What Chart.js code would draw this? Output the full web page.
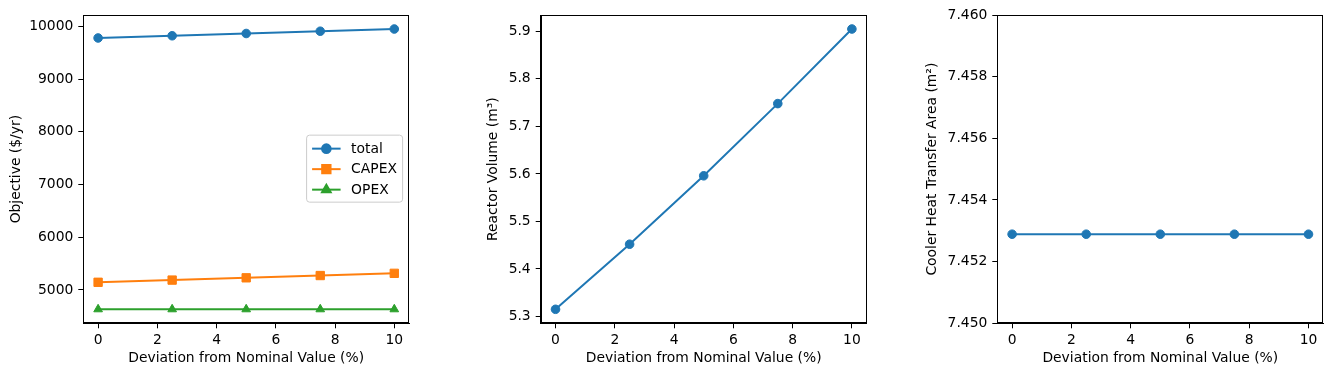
<!DOCTYPE html>
<html>
<head>
<meta charset="utf-8">
<script src="https://cdn.jsdelivr.net/npm/chart.js@4.4.1/dist/chart.umd.min.js"></script>
<style>
  body { margin: 0; background: #fff; }
  .panel { position: absolute; top: 0; }
</style>
</head>
<body>
<div class="panel" id="p1"><canvas id="c1"></canvas></div>
<div class="panel" id="p2"><canvas id="c2"></canvas></div>
<div class="panel" id="p3"><canvas id="c3"></canvas></div>
<script>
// values
const deviation = [0, 2.5, 5, 7.5, 10];
const totalCost = [9780, 9822, 9865, 9908, 9950];
const capexCost = [5146, 5188, 5231, 5274, 5316];
const opexCost = [4634, 4634, 4634, 4634, 4634];
const reactorVolume = [5.315, 5.452, 5.596, 5.748, 5.905];
const coolerArea = [7.45289, 7.45289, 7.45289, 7.45289, 7.45289];

const devTicks = [0, 2, 4, 6, 8, 10];
const objTicks = [5000, 6000, 7000, 8000, 9000, 10000];
const volTicks = [5.3, 5.4, 5.5, 5.6, 5.7, 5.8, 5.9];
const areaTicks = [7.450, 7.452, 7.454, 7.456, 7.458, 7.460];

const FONT = "'DejaVu Sans', sans-serif";
const FS = 13.89;
const H = 376;
const PLOT_TOP = 15, PLOT_BOTTOM = 323.3;

Chart.defaults.font.family = FONT;
Chart.defaults.font.size = FS;
Chart.defaults.color = '#000';

function pts(ys) {
  return deviation.map((x, i) => ({ x: x, y: ys[i] }));
}

const frame = {
  id: 'frame',
  afterDraw(chart) {
    const a = chart.chartArea, ctx = chart.ctx;
    ctx.save();
    ctx.strokeStyle = '#000';
    ctx.lineWidth = 1;
    ctx.strokeRect(Math.round(a.left) + 0.5, Math.round(a.top) + 0.5,
      Math.round(a.right - a.left) - 1, Math.round(a.bottom - a.top) - 1);
    ctx.restore();
  }
};

// matplotlib style legend, center right inside the axes
const boxLegend = {
  id: 'boxLegend',
  afterDraw(chart) {
    if (!chart.options.plugins.boxLegend) return;
    const a = chart.chartArea, ctx = chart.ctx;
    const sets = chart.data.datasets;
    const w = 96, h = 67;
    const x0 = a.right - 6.5 - w;
    const y0 = (a.top + a.bottom) / 2 - h / 2 - 0.5;
    ctx.save();
    ctx.fillStyle = 'rgba(255,255,255,0.8)';
    ctx.strokeStyle = '#cccccc';
    ctx.lineWidth = 1;
    ctx.beginPath();
    ctx.roundRect(x0, y0, w, h, 3);
    ctx.fill();
    ctx.stroke();
    ctx.font = FS + 'px ' + FONT;
    ctx.textBaseline = 'middle';
    sets.forEach((ds, i) => {
      const cy = y0 + 13.5 + i * 20.5;
      ctx.strokeStyle = ds.borderColor;
      ctx.lineWidth = 2;
      ctx.beginPath();
      ctx.moveTo(x0 + 5.5, cy);
      ctx.lineTo(x0 + 34, cy);
      ctx.stroke();
      Chart.helpers.drawPoint(ctx, {
        pointStyle: ds.pointStyle, radius: ds.pointRadius, rotation: 0, borderWidth: 1
      }, x0 + 19.75, cy);
      ctx.fillStyle = ds.borderColor;
      ctx.strokeStyle = ds.borderColor;
      ctx.lineWidth = 1;
      Chart.helpers.drawPoint(ctx, {
        pointStyle: ds.pointStyle, radius: ds.pointRadius, rotation: 0
      }, x0 + 19.75, cy);
      ctx.fill();
      ctx.fillStyle = '#000';
      ctx.fillText(ds.label, x0 + 44.5, cy + 0.5);
    });
    ctx.restore();
  }
};

function line(label, ys, color, style, r) {
  return {
    label: label,
    data: pts(ys),
    borderColor: color,
    backgroundColor: color,
    borderWidth: 2,
    pointStyle: style,
    pointRadius: r,
    pointBorderWidth: 1,
    pointBackgroundColor: color,
    pointBorderColor: color,
    tension: 0
  };
}

function makePanel(id, left, plotL, plotR, datasets, yTitle, yMin, yMax, yTicks, fmt, legend) {
  const div = document.getElementById('p' + id);
  const width = Math.ceil(plotR - left + 6);
  div.style.left = left + 'px';
  const cv = document.getElementById('c' + id);
  cv.width = width;
  cv.height = H;
  cv.style.width = width + 'px';
  cv.style.height = H + 'px';

  const tickGrid = { display: true, drawOnChartArea: false, drawTicks: true, tickLength: 5, color: '#000', lineWidth: 1 };

  new Chart(cv, {
    type: 'line',
    data: { datasets: datasets },
    plugins: [frame, boxLegend],
    options: {
      responsive: false,
      animation: false,
      devicePixelRatio: 1,
      layout: { padding: { top: PLOT_TOP, right: width - (plotR - left), bottom: 0, left: 0 } },
      plugins: { legend: { display: false }, tooltip: { enabled: false }, boxLegend: legend },
      scales: {
        x: {
          type: 'linear',
          min: -0.5,
          max: 10.5,
          grid: tickGrid,
          border: { display: true, color: '#000', width: 1 },
          afterBuildTicks: s => { s.ticks = devTicks.map(v => ({ value: v })); },
          afterFit: s => { s.height = H - PLOT_BOTTOM; },
          ticks: { padding: 4, maxRotation: 0, callback: v => String(v) },
          title: { display: true, text: 'Deviation from Nominal Value (%)', padding: { top: 0, bottom: 9 } }
        },
        y: {
          type: 'linear',
          min: yMin,
          max: yMax,
          grid: tickGrid,
          border: { display: true, color: '#000', width: 1 },
          afterBuildTicks: s => { s.ticks = yTicks.map(v => ({ value: v })); },
          afterFit: s => { s.width = plotL - left; },
          ticks: { padding: 5, callback: fmt },
          title: { display: true, text: yTitle, padding: { top: 0, bottom: 0 } }
        }
      }
    }
  });
}

makePanel(1, 8, 83.3, 409.3, [
  line('total', totalCost, '#1f77b4', 'circle', 4.3),
  line('CAPEX', capexCost, '#ff7f0e', 'rect', 5.9),
  line('OPEX', opexCost, '#2ca02c', 'triangle', 5)
], 'Objective ($/yr)', 4368.2, 10215.8, objTicks, v => String(v), true);

makePanel(2, 485, 540.7, 866.7, [
  line('volume', reactorVolume, '#1f77b4', 'circle', 4.3)
], 'Reactor Volume (m³)', 5.2855, 5.9345, volTicks, v => v.toFixed(1), false);

makePanel(3, 924, 997.3, 1323.3, [
  line('area', coolerArea, '#1f77b4', 'circle', 4.3)
], 'Cooler Heat Transfer Area (m²)', 7.45, 7.46, areaTicks, v => v.toFixed(3), false);
</script>
</body>
</html>
